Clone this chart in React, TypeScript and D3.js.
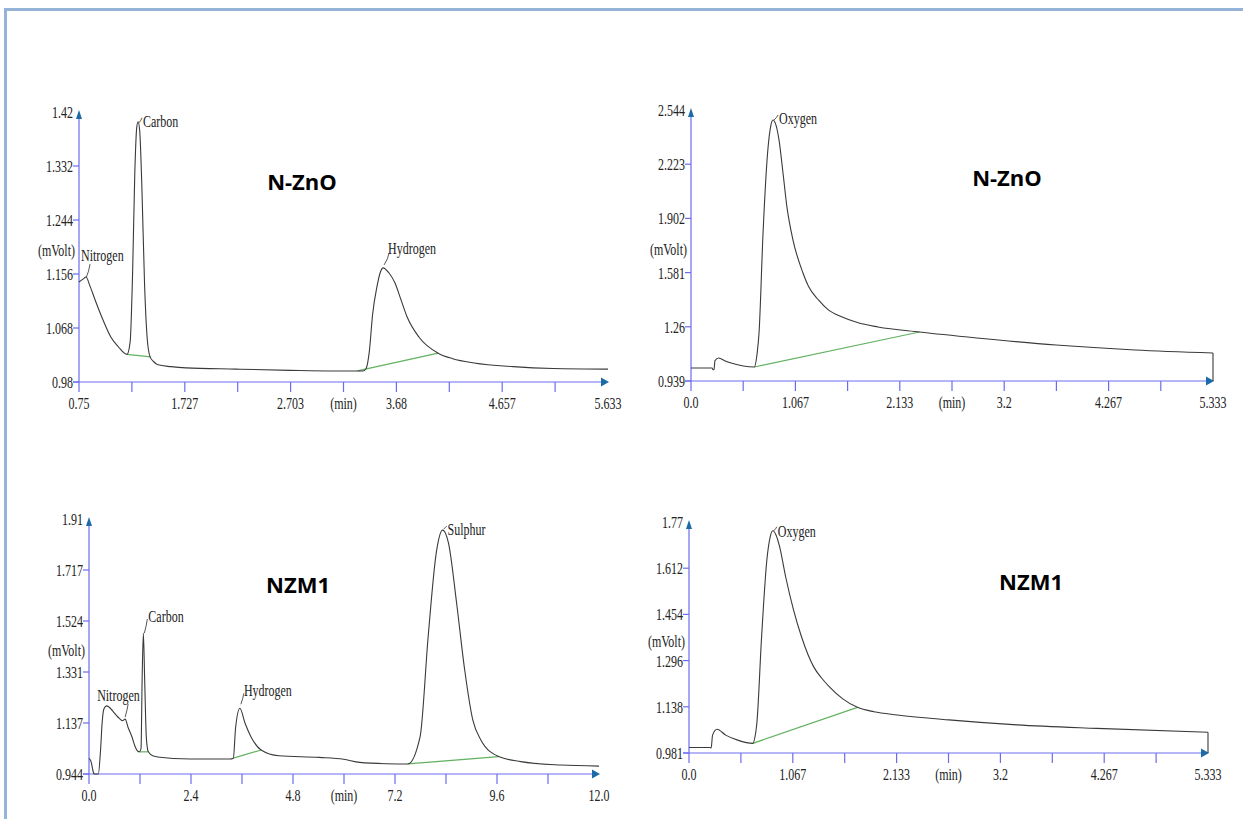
import React, { useEffect, useRef } from 'react';
import * as d3 from 'd3';

type Pt = [number, number];

// ---- N-ZnO, CHNS channel (top left) ----
const nznoChnsXLabels = ['0.75', '1.727', '2.703', '3.68', '4.657', '5.633'];
const nznoChnsYLabels = ['0.98', '1.068', '1.156', '1.244', '1.332', '1.42'];
const nznoChnsTrace: Pt[] = [
  [0.75, 1.143], [0.79, 1.148], [0.815, 1.151], [0.85, 1.137], [0.898, 1.114], [0.935, 1.097],
  [0.972, 1.081], [1.045, 1.053], [1.115, 1.037], [1.193, 1.025], [1.222, 1.045], [1.245, 1.16],
  [1.265, 1.32], [1.283, 1.395], [1.295, 1.404], [1.31, 1.39], [1.33, 1.3], [1.355, 1.14],
  [1.38, 1.05], [1.406, 1.021], [1.44, 1.013], [1.479, 1.008], [1.6, 1.005], [1.738, 1.003],
  [2.2, 1.001], [2.7, 0.999], [3.1, 0.998], [3.372, 0.998], [3.4, 1.002], [3.43, 1.03],
  [3.46, 1.09], [3.5, 1.135], [3.53, 1.158], [3.557, 1.166], [3.61, 1.158], [3.668, 1.141],
  [3.72, 1.115], [3.779, 1.086], [3.889, 1.053], [4.065, 1.027], [4.2, 1.018], [4.397, 1.011],
  [4.757, 1.005], [5.127, 1.002], [5.633, 1.001],
];
const nznoChnsBaselines: Pt[][] = [
  [[1.193, 1.025], [1.41, 1.021]],
  [[3.32, 0.998], [4.065, 1.027]],
];
const nznoChnsPeakNames = ['Nitrogen', 'Carbon', 'Hydrogen'];
const nznoChnsPeakTimes = [0.815, 1.295, 3.557];

// ---- N-ZnO, oxygen channel (top right) ----
const nznoOxyXLabels = ['0.0', '1.067', '2.133', '3.2', '4.267', '5.333'];
const nznoOxyYLabels = ['0.939', '1.26', '1.581', '1.902', '2.223', '2.544'];
const nznoOxyTrace: Pt[] = [
  [0, 1.016], [0.215, 1.016], [0.225, 1.006], [0.235, 1.006], [0.245, 1.06], [0.283, 1.075],
  [0.35, 1.058], [0.41, 1.046], [0.534, 1.028], [0.647, 1.022], [0.675, 1.1], [0.695, 1.223],
  [0.736, 1.816], [0.785, 2.307], [0.815, 2.45], [0.838, 2.485], [0.865, 2.46], [0.899, 2.367],
  [0.94, 2.171], [0.98, 1.97], [1.042, 1.774], [1.144, 1.579], [1.2, 1.5], [1.302, 1.419],
  [1.4, 1.362], [1.545, 1.318], [1.7, 1.285], [1.91, 1.259], [2.334, 1.229], [2.92, 1.194],
  [3.73, 1.152], [4.535, 1.123], [5.333, 1.105],
];
const nznoOxyBaselines: Pt[][] = [[[0.647, 1.022], [2.334, 1.229]]];
const nznoOxyPeakNames = ['Oxygen'];
const nznoOxyPeakTimes = [0.838];

// ---- NZM1, CHNS channel (bottom left) ----
const nzm1ChnsXLabels = ['0.0', '2.4', '4.8', '7.2', '9.6', '12.0'];
const nzm1ChnsYLabels = ['0.944', '1.137', '1.331', '1.524', '1.717', '1.91'];
const nzm1ChnsTrace: Pt[] = [
  [0, 1.003], [0.05, 0.99], [0.1, 0.952], [0.12, 0.944], [0.22, 0.944], [0.27, 1.03],
  [0.31, 1.14], [0.35, 1.19], [0.41, 1.202], [0.47, 1.198], [0.56, 1.182], [0.68, 1.16],
  [0.79, 1.146], [0.85, 1.152], [0.92, 1.12], [1.01, 1.085], [1.08, 1.05], [1.15, 1.03],
  [1.184, 1.028], [1.224, 1.04], [1.25, 1.3], [1.279, 1.478], [1.31, 1.3], [1.35, 1.08],
  [1.396, 1.028], [1.514, 1.012], [1.984, 1.003], [2.8, 1.001], [3.318, 1.001], [3.396, 1.004],
  [3.45, 1.12], [3.55, 1.193], [3.67, 1.137], [3.81, 1.085], [4.05, 1.035], [4.47, 1.013],
  [5.42, 1.007], [5.99, 1.0], [6.37, 0.988], [7.0, 0.983], [7.5, 0.982], [7.79, 1.085],
  [7.98, 1.464], [8.17, 1.781], [8.32, 1.868], [8.46, 1.818], [8.65, 1.591], [8.84, 1.338],
  [9.03, 1.149], [9.22, 1.073], [9.64, 1.01], [10.16, 0.991], [11.1, 0.978], [12.0, 0.974],
];
const nzm1ChnsBaselines: Pt[][] = [
  [[1.184, 1.028], [1.396, 1.028]],
  [[3.396, 1.004], [4.05, 1.035]],
  [[7.5, 0.982], [9.64, 1.01]],
];
const nzm1ChnsPeakNames = ['Nitrogen', 'Carbon', 'Hydrogen', 'Sulphur'];
const nzm1ChnsPeakTimes = [0.85, 1.279, 3.55, 8.32];

// ---- NZM1, oxygen channel (bottom right) ----
const nzm1OxyXLabels = ['0.0', '1.067', '2.133', '3.2', '4.267', '5.333'];
const nzm1OxyYLabels = ['0.981', '1.138', '1.296', '1.454', '1.612', '1.77'];
const nzm1OxyTrace: Pt[] = [
  [0, 1.0], [0.215, 1.0], [0.228, 0.998], [0.242, 1.042], [0.288, 1.062], [0.377, 1.042],
  [0.5, 1.025], [0.656, 1.014], [0.68, 1.04], [0.697, 1.082], [0.746, 1.378], [0.8, 1.64],
  [0.835, 1.72], [0.861, 1.74], [0.895, 1.725], [0.931, 1.686], [0.993, 1.583], [1.074, 1.47],
  [1.156, 1.378], [1.28, 1.276], [1.36, 1.238], [1.443, 1.207], [1.58, 1.166], [1.731, 1.137],
  [1.9, 1.122], [2.14, 1.111], [2.67, 1.094], [3.37, 1.077], [4.19, 1.065], [5.333, 1.052],
];
const nzm1OxyBaselines: Pt[][] = [[[0.656, 1.014], [1.731, 1.137]]];
const nzm1OxyPeakNames = ['Oxygen'];
const nzm1OxyPeakTimes = [0.861];

const panels = [
  {
    title: 'N-ZnO', box: { left: 79, right: 608, top: 112, bottom: 382 }, titleAt: [302, 182],
    xLabels: nznoChnsXLabels, yLabels: nznoChnsYLabels, trace: nznoChnsTrace,
    baselines: nznoChnsBaselines, peakNames: nznoChnsPeakNames, peakTimes: nznoChnsPeakTimes,
    labelOffsets: [[-5, -22], [5, -1], [5, -20]], leaders: [[[0, 1], [4, -13]], [[1, 1], [4, -4]], [[1, -3], [6, -15]]],
    endDrop: false,
  },
  {
    title: 'N-ZnO', box: { left: 691, right: 1213, top: 110, bottom: 381 }, titleAt: [1007, 178],
    xLabels: nznoOxyXLabels, yLabels: nznoOxyYLabels, trace: nznoOxyTrace,
    baselines: nznoOxyBaselines, peakNames: nznoOxyPeakNames, peakTimes: nznoOxyPeakTimes,
    labelOffsets: [[6, -2]], leaders: [[[1, 0], [5, -5]]],
    endDrop: true,
  },
  {
    title: 'NZM1', box: { left: 89, right: 599, top: 519, bottom: 774 }, titleAt: [298, 585],
    xLabels: nzm1ChnsXLabels, yLabels: nzm1ChnsYLabels, trace: nzm1ChnsTrace,
    baselines: nzm1ChnsBaselines, peakNames: nzm1ChnsPeakNames, peakTimes: nzm1ChnsPeakTimes,
    labelOffsets: [[-28, -24], [5, -17], [4, -18], [5, -1]],
    leaders: [[[0, -2], [3, -15]], [[1, 0], [4, -14]], [[1, -4], [4, -15]], [[1, -1], [4, -4]]],
    endDrop: false,
  },
  {
    title: 'NZM1', box: { left: 689, right: 1208, top: 522, bottom: 753 }, titleAt: [1031, 582],
    xLabels: nzm1OxyXLabels, yLabels: nzm1OxyYLabels, trace: nzm1OxyTrace,
    baselines: nzm1OxyBaselines, peakNames: nzm1OxyPeakNames, peakTimes: nzm1OxyPeakTimes,
    labelOffsets: [[5, 0]], leaders: [[[1, 0], [4, -4]]],
    endDrop: true,
  },
];

const AXIS = '#6c6cf0';
const ARROW = '#1c6aa8';
const TRACE = '#3a3a3a';
const BASE = '#62b262';
const SERIF = '"Liberation Serif", "Times New Roman", serif';

const App = () => {
  const svgRef = useRef<SVGSVGElement>(null);

  useEffect(() => {
    const svg = d3.select(svgRef.current);
    svg.selectAll('*').remove();

    // slide frame
    svg.append('line').attr('x1', 4).attr('x2', 1243).attr('y1', 9.5).attr('y2', 9.5)
      .attr('stroke', '#95b3d7').attr('stroke-width', 3);
    svg.append('line').attr('x1', 5.5).attr('x2', 5.5).attr('y1', 8).attr('y2', 819)
      .attr('stroke', '#95b3d7').attr('stroke-width', 3);

    // text squeezed like the scanned chromatograms
    const stretchText = (g, x, y, txt, anchor, size = 12, sy = 1.45) =>
      g.append('text')
        .attr('transform', `translate(${x},${y}) scale(1,${sy})`)
        .attr('text-anchor', anchor).attr('dy', '0.35em')
        .style('font-family', SERIF).style('font-size', `${size}px`).style('fill', '#222')
        .text(txt);

    panels.forEach(p => {
      const xd: [number, number] = [p.trace[0][0], p.trace[p.trace.length - 1][0]];
      const yd: [number, number] = [+p.yLabels[0], +p.yLabels[p.yLabels.length - 1]];
      const x = d3.scaleLinear().domain(xd).range([p.box.left, p.box.right]);
      const y = d3.scaleLinear().domain(yd).range([p.box.bottom, p.box.top]);
      const g = svg.append('g');

      const xTicks = d3.range(11).map(i => xd[0] + (i * (xd[1] - xd[0])) / 10);
      const yTicks = d3.range(6).map(i => yd[0] + (i * (yd[1] - yd[0])) / 5);

      // axes lines
      g.append('line').attr('x1', x(xd[0]) - 6).attr('x2', x(xd[1]) - 4)
        .attr('y1', y(yd[0])).attr('y2', y(yd[0])).attr('stroke', AXIS).attr('stroke-width', 1.2);
      g.append('line').attr('x1', x(xd[0])).attr('x2', x(xd[0]))
        .attr('y1', y(yd[0]) + 10).attr('y2', y(yd[1]) + 4).attr('stroke', AXIS).attr('stroke-width', 1.2);

      g.selectAll('.xt').data(xTicks.slice(1, 10)).join('line')
        .attr('x1', d => x(d)).attr('x2', d => x(d))
        .attr('y1', y(yd[0])).attr('y2', y(yd[0]) + 10)
        .attr('stroke', AXIS).attr('stroke-width', 1.2);
      g.selectAll('.yt').data(yTicks.slice(0, 5)).join('line')
        .attr('x1', x(xd[0]) - 6).attr('x2', x(xd[0]))
        .attr('y1', d => y(d)).attr('y2', d => y(d))
        .attr('stroke', AXIS).attr('stroke-width', 1.2);

      // arrow heads
      const ax = x(xd[1]), ay = y(yd[0]);
      g.append('path').attr('d', `M${ax + 1},${ay} L${ax - 7},${ay - 4.5} L${ax - 7},${ay + 4.5} Z`).attr('fill', ARROW);
      const tx = x(xd[0]), ty = y(yd[1]);
      g.append('path').attr('d', `M${tx},${ty - 2} L${tx - 3},${ty + 7} L${tx + 3},${ty + 7} Z`).attr('fill', ARROW);

      // tick labels
      p.xLabels.forEach((lab, i) => stretchText(g, x(xTicks[i * 2]), y(yd[0]) + 21, lab, 'middle'));
      stretchText(g, x(xTicks[5]), y(yd[0]) + 21, '(min)', 'middle');
      p.yLabels.forEach((lab, i) => stretchText(g, x(xd[0]) - 6, y(yTicks[i]), lab, 'end'));
      stretchText(g, x(xd[0]) - 4, y((yd[0] + yd[1]) / 2) + 3, '(mVolt)', 'end');

      // baselines then trace
      const line = d3.line<Pt>().x(d => x(d[0])).y(d => y(d[1]));
      p.baselines.forEach(b => {
        g.append('path').attr('d', line(b)).attr('fill', 'none').attr('stroke', BASE).attr('stroke-width', 1.2);
      });
      g.append('path')
        .attr('d', line.curve(d3.curveMonotoneX)(p.trace))
        .attr('fill', 'none').attr('stroke', TRACE).attr('stroke-width', 1.1);
      if (p.endDrop) {
        const last = p.trace[p.trace.length - 1];
        g.append('line').attr('x1', x(last[0])).attr('x2', x(last[0]))
          .attr('y1', y(last[1])).attr('y2', y(yd[0])).attr('stroke', TRACE).attr('stroke-width', 1.1);
      }

      // peak labels
      p.peakNames.forEach((name, i) => {
        const pk = p.trace.reduce((a, b) => (Math.abs(b[0] - p.peakTimes[i]) < Math.abs(a[0] - p.peakTimes[i]) ? b : a));
        const px = x(pk[0]), py = y(pk[1]);
        const [[sx, sy], [ex, ey]] = p.leaders[i];
        g.append('path')
          .attr('d', `M${px + sx},${py + sy} Q${px + ex - 1},${py + (sy + ey) / 2} ${px + ex},${py + ey}`)
          .attr('fill', 'none').attr('stroke', '#444').attr('stroke-width', 0.9);
        stretchText(g, px + p.labelOffsets[i][0], py + p.labelOffsets[i][1], name, 'start', 12, 1.4);
      });

      g.append('text').attr('x', p.titleAt[0]).attr('y', p.titleAt[1]).attr('dy', '0.35em')
        .attr('text-anchor', 'middle')
        .style('font-family', '"Open Sans", sans-serif').style('font-weight', 700).style('font-size', '22px')
        .text(p.title);
    });
  }, []);

  return (
    <svg ref={svgRef} width={1243} height={819}
      style={{ position: 'absolute', left: 0, top: 0, background: '#fff' }} />
  );
};

export default App;
